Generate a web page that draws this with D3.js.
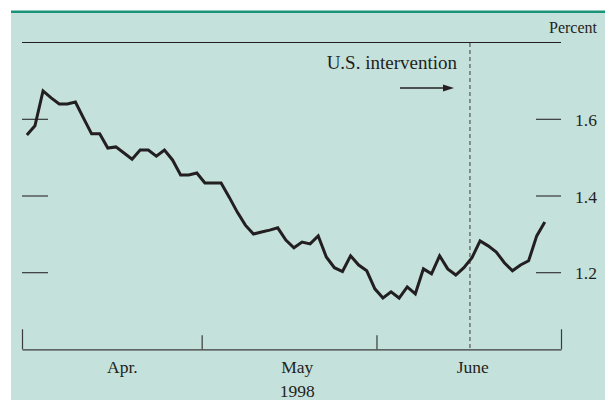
<!DOCTYPE html>
<html>
<head>
<meta charset="utf-8">
<script src="https://cdn.jsdelivr.net/npm/d3@7"></script>
<style>
  body { margin: 0; background: #fff; }
  text { font-family: "Liberation Serif", "Times New Roman", serif; fill: #231f20; }
</style>
</head>
<body>
<div id="chart"></div>
<script>

// trading-day index, one value per day, Apr. 1 to late June 1998
var rates = [
  1.559, 1.583, 1.674, 1.656, 1.640, 1.640, 1.645, 1.603, 1.562, 1.562,
  1.525, 1.528, 1.512, 1.496, 1.520, 1.520, 1.504, 1.520, 1.494, 1.455,
  1.455, 1.460, 1.434, 1.434, 1.434, 1.397, 1.358, 1.324, 1.301, 1.306,
  1.311, 1.317, 1.285, 1.265, 1.280, 1.275, 1.296, 1.241, 1.213, 1.203,
  1.244, 1.220, 1.205, 1.158, 1.134, 1.150, 1.134, 1.163, 1.145, 1.210,
  1.197, 1.244, 1.210, 1.194, 1.213, 1.239, 1.283, 1.270, 1.254, 1.226,
  1.205, 1.220, 1.231, 1.296, 1.332
];

var monthBounds = [-0.6, 21.6, 43.2, 66];   // in day index
var monthNames = ["Apr.", "May", "June"];
var monthLabelAt = [11.8, 33.4, 55.1];
var yearLabel = "1998";
var yTicks = [1.2, 1.4, 1.6];
var interventionDay = 54.75;

var svgWidth = 605, svgHeight = 400;

var svg = d3.select("#chart")
  .append("svg")
  .attr("width", svgWidth)
  .attr("height", svgHeight);

// panel background + top rule
svg.append("rect")
  .attr("x", 11).attr("y", 11)
  .attr("width", svgWidth - 11).attr("height", svgHeight - 11)
  .attr("fill", "#c5e1dc");

svg.append("rect")
  .attr("x", 11).attr("y", 10.5)
  .attr("width", svgWidth - 11).attr("height", 2.5)
  .attr("fill", "#1a9479");

var x = d3.scaleLinear()
  .domain([monthBounds[0], monthBounds[3]])
  .range([22, 561]);

var y = d3.scaleLinear()
  .domain([1.2, 1.6])
  .range([272.7, 119.3]);

var axisY = 349.3;

// top rule
svg.append("line")
  .attr("x1", 22).attr("x2", 561)
  .attr("y1", 42.5).attr("y2", 42.5)
  .attr("stroke", "#231f20")
  .attr("stroke-width", 1.2);

svg.append("text")
  .attr("x", 597).attr("y", 33)
  .attr("text-anchor", "end")
  .attr("font-size", "16px")
  .text("Percent");

// bottom axis
var bottomAxis = d3.axisBottom(x)
  .tickValues(monthBounds)
  .tickSize(-14)
  .tickSizeOuter(0)
  .tickFormat("");

var xAxis = svg.append("g")
  .attr("transform", `translate(0, ${axisY})`)
  .call(bottomAxis);

xAxis.select(".domain").attr("stroke", "#3a3a3a").attr("stroke-width", 1.3);
xAxis.selectAll(".tick line")
  .attr("stroke", "#3a3a3a")
  .attr("stroke-width", 1.2)
  .attr("y2", (d, i) => (i === 0 || i === monthBounds.length - 1) ? -20 : -14);

svg.selectAll(".month")
  .data(monthNames)
  .enter()
  .append("text")
  .attr("class", "month")
  .attr("x", (d, i) => x(monthLabelAt[i]))
  .attr("y", 373)
  .attr("text-anchor", "middle")
  .attr("font-size", "17.5px")
  .text(d => d);

svg.append("text")
  .attr("x", x(monthLabelAt[1]))
  .attr("y", 397)
  .attr("text-anchor", "middle")
  .attr("font-size", "17.5px")
  .text(yearLabel);

// y ticks on both sides
svg.selectAll(".ltick")
  .data(yTicks)
  .enter()
  .append("line")
  .attr("x1", 22).attr("x2", 48)
  .attr("y1", d => y(d)).attr("y2", d => y(d))
  .attr("stroke", "#2a2a2a")
  .attr("stroke-width", 1.1);

svg.selectAll(".rtick")
  .data(yTicks)
  .enter()
  .append("line")
  .attr("x1", 536).attr("x2", 561)
  .attr("y1", d => y(d)).attr("y2", d => y(d))
  .attr("stroke", "#2a2a2a")
  .attr("stroke-width", 1.1);

svg.selectAll(".ylabel")
  .data(yTicks)
  .enter()
  .append("text")
  .attr("x", 575)
  .attr("y", d => y(d) + 6.5)
  .attr("font-size", "17.5px")
  .text(d => d.toFixed(1));

// intervention marker
svg.append("line")
  .attr("x1", x(interventionDay)).attr("x2", x(interventionDay))
  .attr("y1", 43).attr("y2", axisY)
  .attr("stroke", "#555")
  .attr("stroke-width", 1.2)
  .attr("stroke-dasharray", "4,3");

svg.append("text")
  .attr("x", 457).attr("y", 69)
  .attr("text-anchor", "end")
  .attr("font-size", "19px")
  .text("U.S. intervention");

svg.append("line")
  .attr("x1", 400).attr("x2", 444)
  .attr("y1", 88).attr("y2", 88)
  .attr("stroke", "#231f20")
  .attr("stroke-width", 1.3);

svg.append("path")
  .attr("d", "M443,84.5 L454,88 L443,91.5 Z")
  .attr("fill", "#231f20");

// the series
var line = d3.line()
  .x((d, i) => x(i))
  .y(d => y(d));

svg.append("path")
  .datum(rates)
  .attr("fill", "none")
  .attr("stroke", "#231f20")
  .attr("stroke-width", 3)
  .attr("stroke-linejoin", "miter")
  .attr("d", line);

</script>
</body>
</html>
